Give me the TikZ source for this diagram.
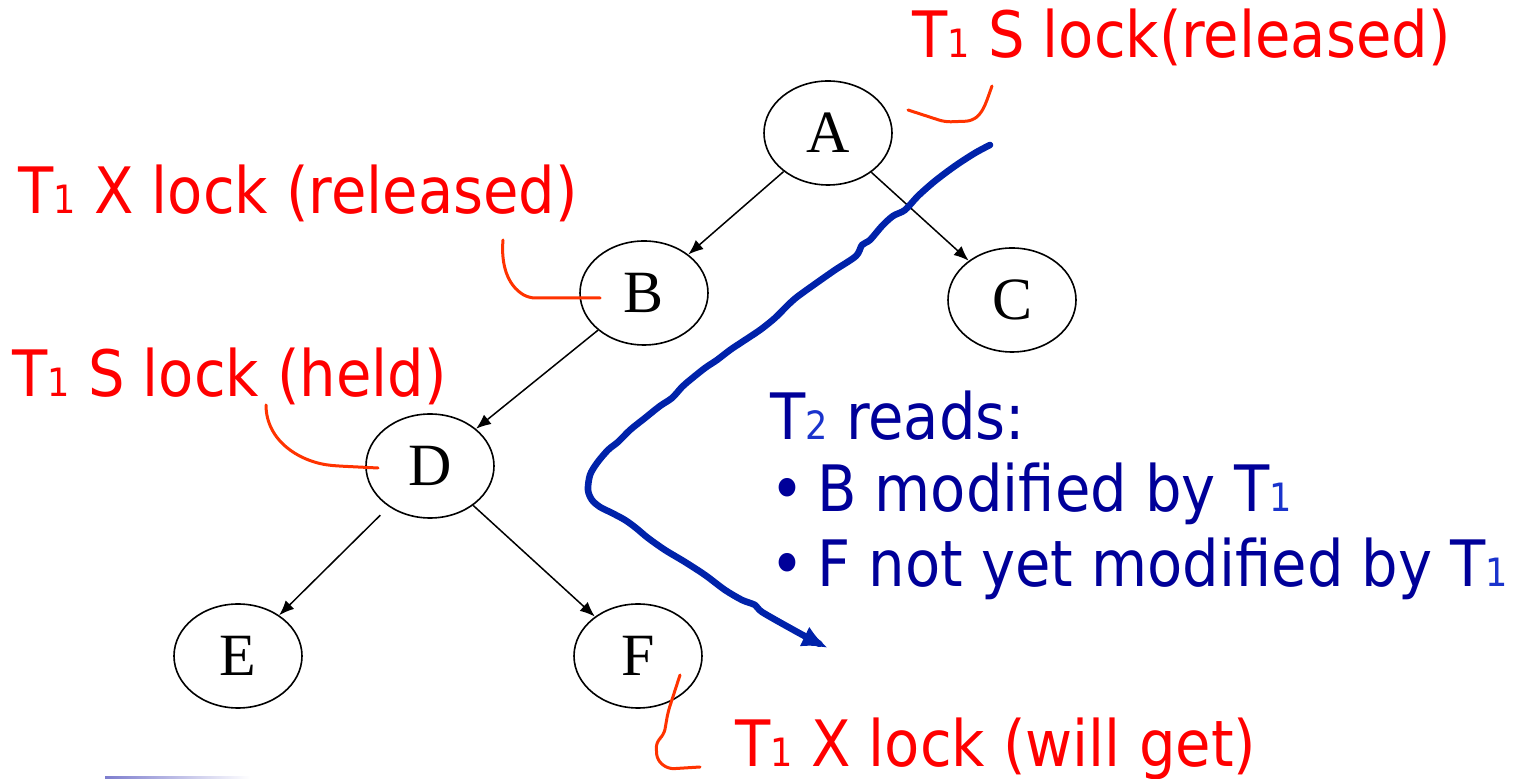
\documentclass[tikz,border=0pt]{standalone}
\usepackage{fontspec}
\usepackage{tikz}
\usepackage{xcolor}
\usetikzlibrary{arrows.meta,positioning,calc,shapes.geometric,trees}
\newfontfamily\labelfont{DejaVu Sans Condensed}
\newfontfamily\nodefont{Liberation Serif}
\definecolor{ink}{HTML}{000000}
\definecolor{lockred}{HTML}{FF0000}
\definecolor{leadred}{HTML}{FF3300}
\definecolor{readblue}{HTML}{000099}
\definecolor{digblue}{HTML}{1A33CC}
\definecolor{pathblue}{HTML}{0022AA}
\newcommand{\subdig}[1]{{\fontsize{19.5}{20}\selectfont #1}}

\begin{document}
\begin{tikzpicture}[x=0.5pt,y=0.5pt,
  treenode/.style={ellipse,draw=ink,line width=0.8pt,minimum width=64pt,minimum height=52pt,
    inner sep=0pt,font=\nodefont\fontsize{30}{30}\selectfont},
  lock/.style={text=lockred,font=\labelfont\fontsize{32}{36}\selectfont,inner sep=0pt,anchor=base west},
  readtext/.style={text=readblue,font=\labelfont\fontsize{32}{36}\selectfont,inner sep=0pt,anchor=base west},
  leader/.style={draw=leadred,line width=1.5pt,line cap=round,line join=round,rounded corners=3pt}]
\useasboundingbox (0,0) rectangle (1520,-779);
\begin{scope}[every node/.style={treenode},
  edge from parent/.style={draw=ink,line width=0.75pt,-{Latex[length=7.5pt,width=6pt]}},
  level 1/.style={sibling distance=184pt,level distance=80pt},
  level 2/.style={sibling distance=214pt,level distance=86.5pt},
  level 3/.style={sibling distance=200pt,level distance=95pt}]
\node (A) at (828,-133) {A}
  child {node (B) {B}
    child {node (D) {D}
      child {node[xshift=4pt] (E) {E} edge from parent[shorten <=6pt]}
      child {node[xshift=4pt] (F) {F}}}
    child[missing]}
  child {node[yshift=-3.5pt] (C) {C}};
\end{scope}
% lock labels
\node[lock] (lblA) at (912,-58) {T\subdig{1} S lock(released)};
\node[lock] (lblB) at (18,-214) {T\subdig{1} X lock (released)};
\node[lock] (lblD) at (12,-397) {T\subdig{1} S lock (held)};
\node[lock] (lblF) at (735,-766) {T\subdig{1} X lock (will get)};
\draw[leader] ($(A)+(80,23)$) -- ++(37,-12) -- ++(27,1) to[out=40,in=-110] ++(20,35);
\draw[leader] ($(B)+(-44,-5)$) -- ++(-71,0) to[out=150,in=-95] ++(-26,58);
\draw[leader] ($(D)+(-52,-2)$) -- ++(-40,2) to[out=175,in=-90] ++(-72,61);
\draw[leader] ($(F)+(42,-19)$) -- ++(-12,-37) -- ++(-4,-23) -- ++(-8,-7) -- ++(1,-18) -- ++(11,-9) -- ++(32,2);
% T2 reads
\node[readtext] (reads) at (770,-440) {T\textcolor{digblue}{\subdig{2}} reads:};
\node[readtext] (itemB) at ($(reads.base west)+(0,-72)$) {•\hspace{0.2em}B modified by T\textcolor{digblue}{\subdig{1}}};
\node[readtext] (itemF) at ($(itemB.base west)+(0,-75)$) {•\hspace{0.2em}F not yet modified by T\textcolor{digblue}{\subdig{1}}};
\draw[pathblue,line width=3.3pt,line cap=round,line join=round,-{Latex[length=13pt,width=11pt]}]
  plot[smooth,tension=0.5] coordinates {(990,-145) (975,-153) (955,-166) (935,-181) (918,-196)
  (905,-210) (893,-216) (882,-226) (870,-240) (862,-245) (856,-256) (835,-270) (815,-284)
  (797,-297) (788,-305) (775,-318) (760,-330) (742,-342) (730,-350) (717,-360) (705,-368)
  (690,-380) (682,-387) (672,-398) (660,-406) (645,-418) (630,-430) (618,-442) (608,-450)
  (597,-463) (590,-475) (588,-490) (592,-500) (600,-507) (612,-513) (625,-520) (636,-528)
  (648,-538) (665,-550) (685,-562) (705,-575) (725,-590) (742,-600) (755,-605) (762,-612)
  (790,-628) (812,-640) (828,-648)};
\shade[left color=blue!45!gray!70,middle color=orange!40!yellow!70,right color=white] (105,-776) rectangle (250,-779);
\end{tikzpicture}
\end{document}
